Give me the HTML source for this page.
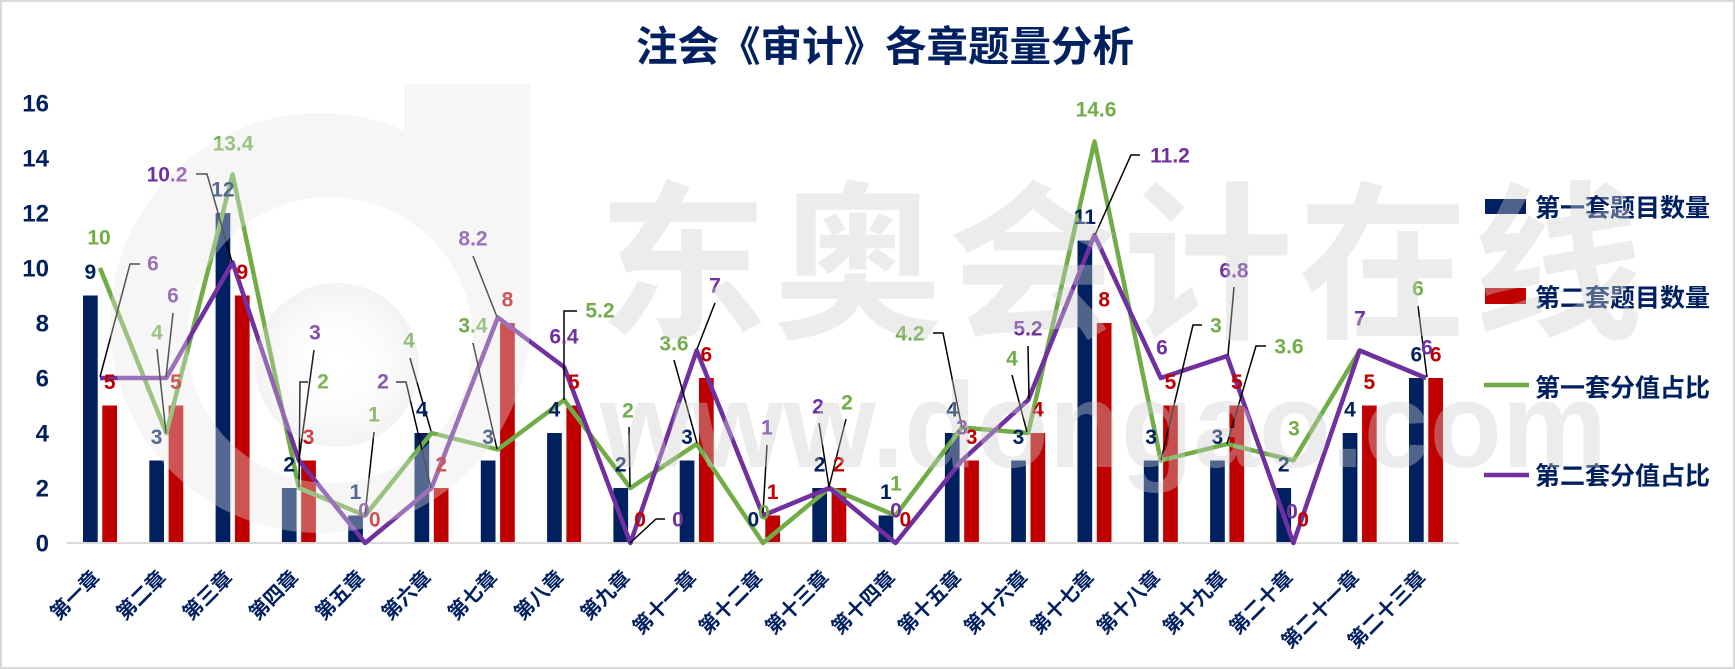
<!DOCTYPE html>
<html><head><meta charset="utf-8">
<style>
html,body{margin:0;padding:0;background:#fff;}
svg{display:block;}
.f{font-family:"Liberation Sans","Noto Sans CJK SC",sans-serif;font-weight:bold;}
.dl{font-size:21px;text-anchor:middle;}
.b{fill:#002060}.r{fill:#c00000}.g{fill:#70ad47}.p{fill:#7030a0}
.xl{font-size:20px;fill:#002060;text-anchor:end;font-family:"Liberation Sans","Noto Sans CJK SC",sans-serif;font-weight:bold;}
.yl{font-size:24px;fill:#002060;text-anchor:end;}
.ld{fill:none;stroke:#000;stroke-width:1.5;}
</style></head>
<body>
<svg width="1735" height="669" viewBox="0 0 1735 669" xmlns="http://www.w3.org/2000/svg">
<defs>
<mask id="holeMask" maskUnits="userSpaceOnUse" x="0" y="0" width="1735" height="669">
<rect x="0" y="0" width="1735" height="669" fill="#fff"/>
<circle cx="330" cy="340" r="143" fill="#000"/>
</mask>
<radialGradient id="diskG" cx="0.5" cy="0.5" r="0.5">
<stop offset="0" stop-color="#ffffff" stop-opacity="0"/>
<stop offset="1" stop-color="#dcdcdc" stop-opacity="0.35"/>
</radialGradient>
</defs>
<rect x="0" y="0" width="1735" height="669" fill="#fff"/>
<rect x="1" y="1" width="1733" height="667" fill="none" stroke="#d9d9d9" stroke-width="2"/>

<!-- title -->
<text class="f" x="636" y="61" font-size="41.5" fill="#002060">注会《审计》各章题量分析</text>

<!-- y labels -->
<g class="f yl">
<text x="49" y="551.6">0</text>
<text x="49" y="496.6">2</text>
<text x="49" y="441.6">4</text>
<text x="49" y="386.6">6</text>
<text x="49" y="331.6">8</text>
<text x="49" y="276.6">10</text>
<text x="49" y="221.6">12</text>
<text x="49" y="166.6">14</text>
<text x="49" y="111.6">16</text>
</g>

<!-- bars blue -->
<g fill="#002060">
<rect x="83" y="295.5" width="14.7" height="247.5"/>
<rect x="149.3" y="460.5" width="14.7" height="82.5"/>
<rect x="215.6" y="213" width="14.7" height="330"/>
<rect x="281.9" y="488" width="14.7" height="55"/>
<rect x="348.2" y="515.5" width="14.7" height="27.5"/>
<rect x="414.5" y="433" width="14.7" height="110"/>
<rect x="480.8" y="460.5" width="14.7" height="82.5"/>
<rect x="547.1" y="433" width="14.7" height="110"/>
<rect x="613.4" y="488" width="14.7" height="55"/>
<rect x="679.7" y="460.5" width="14.7" height="82.5"/>
<rect x="812.3" y="488" width="14.7" height="55"/>
<rect x="878.6" y="515.5" width="14.7" height="27.5"/>
<rect x="944.9" y="433" width="14.7" height="110"/>
<rect x="1011.2" y="460.5" width="14.7" height="82.5"/>
<rect x="1077.5" y="240.5" width="14.7" height="302.5"/>
<rect x="1143.8" y="460.5" width="14.7" height="82.5"/>
<rect x="1210.1" y="460.5" width="14.7" height="82.5"/>
<rect x="1276.4" y="488" width="14.7" height="55"/>
<rect x="1342.7" y="433" width="14.7" height="110"/>
<rect x="1409" y="378" width="14.7" height="165"/>
</g>
<!-- bars red -->
<g fill="#c00000">
<rect x="102.3" y="405.5" width="14.7" height="137.5"/>
<rect x="168.6" y="405.5" width="14.7" height="137.5"/>
<rect x="234.9" y="295.5" width="14.7" height="247.5"/>
<rect x="301.2" y="460.5" width="14.7" height="82.5"/>
<rect x="433.8" y="488" width="14.7" height="55"/>
<rect x="500.1" y="323" width="14.7" height="220"/>
<rect x="566.4" y="405.5" width="14.7" height="137.5"/>
<rect x="699" y="378" width="14.7" height="165"/>
<rect x="765.3" y="515.5" width="14.7" height="27.5"/>
<rect x="831.6" y="488" width="14.7" height="55"/>
<rect x="964.2" y="460.5" width="14.7" height="82.5"/>
<rect x="1030.5" y="433" width="14.7" height="110"/>
<rect x="1096.8" y="323" width="14.7" height="220"/>
<rect x="1163.1" y="405.5" width="14.7" height="137.5"/>
<rect x="1229.4" y="405.5" width="14.7" height="137.5"/>
<rect x="1362" y="405.5" width="14.7" height="137.5"/>
<rect x="1428.3" y="378" width="14.7" height="165"/>
</g>

<!-- axis -->
<line x1="66.7" y1="543" x2="1459" y2="543" stroke="#d9d9d9" stroke-width="2"/>

<!-- lines -->
<polyline fill="none" stroke="#70ad47" stroke-width="4.5" stroke-linejoin="round" points="100,268 166.3,433 232.6,174.5 298.9,488 365.2,515.5 431.5,433 497.8,449.5 564.1,400 630.4,488 696.7,444 763,543 829.3,488 895.6,515.5 961.9,427.5 1028.2,433 1094.5,141.5 1160.8,460.5 1227.1,444 1293.4,460.5 1359.7,350.5 1426,378"/>
<polyline fill="none" stroke="#7030a0" stroke-width="4.5" stroke-linejoin="round" points="100,378 166.3,378 232.6,262.5 298.9,460.5 365.2,543 431.5,488 497.8,317.5 564.1,367 630.4,543 696.7,350.5 763,515.5 829.3,488 895.6,543 961.9,460.5 1028.2,400 1094.5,235 1160.8,378 1227.1,356 1293.4,543 1359.7,350.5 1426,378"/>

<!-- leader lines -->
<g class="ld">
<polyline points="157,349 166,433"/>
<polyline points="308,382 300,382 299,487"/>
<polyline points="374,432 365,515"/>
<polyline points="410,358 431,431"/>
<polyline points="473,343 497,449"/>
<polyline points="577,311 564,311 564,400"/>
<polyline points="629,427 630,487"/>
<polyline points="674,360 697,443"/>
<polyline points="846,419 829,487"/>
<polyline points="933,333 943,333 962,428"/>
<polyline points="1012,375 1027,432"/>
<polyline points="1202,325 1193,325 1161,460"/>
<polyline points="1266,346 1256,346 1227,444"/>
<polyline points="1418,306 1427,377"/>
<polyline points="140,264 130,264 100,377"/>
<polyline points="173,313 166,377"/>
<polyline points="196,174 207,174 232,262"/>
<polyline points="314,350 299,460"/>
<polyline points="396,382 406,382 431,488"/>
<polyline points="473,256 497,317"/>
<polyline points="665,519 656,519 630,543"/>
<polyline points="715,303 697,349"/>
<polyline points="767,445 763,513"/>
<polyline points="819,423 829,487"/>
<polyline points="1028,346 1029,399"/>
<polyline points="1140,155 1131,155 1095,235"/>
<polyline points="1234,287 1228,355"/>
</g>

<!-- blue labels -->
<g class="f dl b">
<text x="90.3" y="279">9</text>
<text x="156.6" y="444">3</text>
<text x="222.9" y="196.5">12</text>
<text x="289.2" y="471.5">2</text>
<text x="355.5" y="499">1</text>
<text x="421.8" y="416.5">4</text>
<text x="488.1" y="444">3</text>
<text x="554.4" y="416.5">4</text>
<text x="620.7" y="471.5">2</text>
<text x="687" y="444">3</text>
<text x="753.3" y="526.5">0</text>
<text x="819.6" y="471.5">2</text>
<text x="885.9" y="499">1</text>
<text x="952.2" y="416.5">4</text>
<text x="1018.5" y="444">3</text>
<text x="1084.8" y="224">11</text>
<text x="1151.1" y="444">3</text>
<text x="1217.4" y="444">3</text>
<text x="1283.7" y="471.5">2</text>
<text x="1350" y="416.5">4</text>
<text x="1416.3" y="361.5">6</text>
</g>
<!-- red labels -->
<g class="f dl r">
<text x="109.7" y="389">5</text>
<text x="176" y="389">5</text>
<text x="242.3" y="279">9</text>
<text x="308.6" y="444">3</text>
<text x="374.9" y="526.5">0</text>
<text x="441.2" y="471.5">2</text>
<text x="507.5" y="306.5">8</text>
<text x="573.8" y="389">5</text>
<text x="640.1" y="526.5">0</text>
<text x="706.4" y="361.5">6</text>
<text x="772.7" y="499">1</text>
<text x="839" y="471.5">2</text>
<text x="905.3" y="526.5">0</text>
<text x="971.6" y="444">3</text>
<text x="1037.9" y="416.5">4</text>
<text x="1104.2" y="306.5">8</text>
<text x="1170.5" y="389">5</text>
<text x="1236.8" y="389">5</text>
<text x="1303.1" y="526.5">0</text>
<text x="1369.4" y="389">5</text>
<text x="1435.7" y="361.5">6</text>
</g>
<!-- green labels -->
<g class="f dl g">
<text x="99" y="244.5">10</text>
<text x="157" y="339.5">4</text>
<text x="233" y="150.5">13.4</text>
<text x="323" y="388.5">2</text>
<text x="374" y="421.5">1</text>
<text x="409" y="347.5">4</text>
<text x="473" y="332.5">3.4</text>
<text x="600" y="317.5">5.2</text>
<text x="628" y="417.5">2</text>
<text x="674" y="350.5">3.6</text>
<text x="764" y="519.5">0</text>
<text x="847" y="409.5">2</text>
<text x="896" y="490.5">1</text>
<text x="910" y="340.5">4.2</text>
<text x="1012" y="365.5">4</text>
<text x="1096" y="116.5">14.6</text>
<text x="1216" y="332.5">3</text>
<text x="1289" y="353.5">3.6</text>
<text x="1294" y="435.5">3</text>
<text x="1360" y="325.5">7</text>
<text x="1418" y="295.5">6</text>
</g>
<!-- purple labels -->
<g class="f dl p">
<text x="153" y="270.5">6</text>
<text x="173" y="302.5">6</text>
<text x="167" y="181.5">10.2</text>
<text x="315" y="339.5">3</text>
<text x="364" y="517.5">0</text>
<text x="383" y="388.5">2</text>
<text x="473" y="245.5">8.2</text>
<text x="564" y="343.5">6.4</text>
<text x="678" y="526.5">0</text>
<text x="715" y="292.5">7</text>
<text x="767" y="434.5">1</text>
<text x="818" y="413.5">2</text>
<text x="896" y="517.5">0</text>
<text x="962" y="434.5">3</text>
<text x="1028" y="335.5">5.2</text>
<text x="1170" y="162.5">11.2</text>
<text x="1162" y="354.5">6</text>
<text x="1234" y="277.5">6.8</text>
<text x="1292" y="518.5">0</text>
<text x="1360" y="325.5">7</text>
<text x="1427" y="354.5">6</text>
</g>

<!-- x labels -->
<g class="xl">
<text transform="translate(101,579) rotate(-45)">第一章</text>
<text transform="translate(167.3,579) rotate(-45)">第二章</text>
<text transform="translate(233.6,579) rotate(-45)">第三章</text>
<text transform="translate(299.9,579) rotate(-45)">第四章</text>
<text transform="translate(366.2,579) rotate(-45)">第五章</text>
<text transform="translate(432.5,579) rotate(-45)">第六章</text>
<text transform="translate(498.8,579) rotate(-45)">第七章</text>
<text transform="translate(565.1,579) rotate(-45)">第八章</text>
<text transform="translate(631.4,579) rotate(-45)">第九章</text>
<text transform="translate(697.7,579) rotate(-45)">第十一章</text>
<text transform="translate(764,579) rotate(-45)">第十二章</text>
<text transform="translate(830.3,579) rotate(-45)">第十三章</text>
<text transform="translate(896.6,579) rotate(-45)">第十四章</text>
<text transform="translate(962.9,579) rotate(-45)">第十五章</text>
<text transform="translate(1029.2,579) rotate(-45)">第十六章</text>
<text transform="translate(1095.5,579) rotate(-45)">第十七章</text>
<text transform="translate(1161.8,579) rotate(-45)">第十八章</text>
<text transform="translate(1228.1,579) rotate(-45)">第十九章</text>
<text transform="translate(1294.4,579) rotate(-45)">第二十章</text>
<text transform="translate(1360.7,579) rotate(-45)">第二十一章</text>
<text transform="translate(1427,579) rotate(-45)">第二十三章</text>
</g>

<!-- legend -->
<rect x="1485" y="199" width="41" height="15" fill="#002060"/>
<rect x="1485" y="288" width="41" height="16" fill="#c00000"/>
<line x1="1484" y1="385" x2="1529" y2="385" stroke="#70ad47" stroke-width="4.5"/>
<line x1="1484" y1="475" x2="1529" y2="475" stroke="#7030a0" stroke-width="4.5"/>
<g class="f" font-size="25" fill="#002060">
<text x="1535" y="216.5">第一套题目数量</text>
<text x="1535" y="306.5">第二套题目数量</text>
<text x="1535" y="396.5">第一套分值占比</text>
<text x="1535" y="484.5">第二套分值占比</text>
</g>

<!-- watermark logo "d" -->
<g opacity="0.36" fill="#e8e8e8" mask="url(#holeMask)">
<circle cx="320" cy="323" r="210"/>
<rect x="404" y="84" width="126" height="239"/>
</g>
<circle cx="337" cy="365" r="82" fill="url(#diskG)"/>

<!-- watermark text -->
<g fill="#cdcdcd" fill-opacity="0.39">
<text x="598" y="325" font-size="170" letter-spacing="5" font-family="'Noto Sans CJK SC','WenQuanYi Zen Hei',sans-serif" font-weight="bold">东奥会计在线</text>
<text x="600" y="467" font-size="122" textLength="1007" lengthAdjust="spacingAndGlyphs" font-family="'Liberation Sans',sans-serif" font-weight="bold">www.dongao.com</text>
</g>
</svg>
</body></html>
